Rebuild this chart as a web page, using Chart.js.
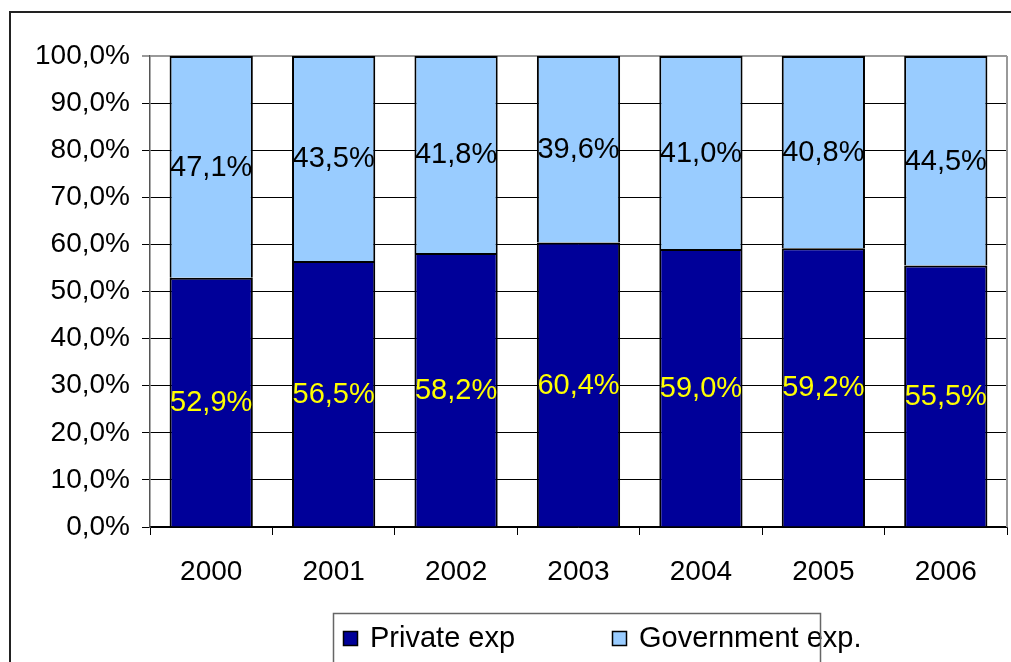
<!DOCTYPE html>
<html>
<head>
<meta charset="utf-8">
<script src="https://cdn.jsdelivr.net/npm/chart.js@4.4.1/dist/chart.umd.min.js"></script>
<style>
  html, body { margin: 0; padding: 0; background: #fff; }
  #wrap { width: 1011px; height: 662px; position: relative; }
</style>
</head>
<body>
<div id="wrap"><canvas id="myChart" width="1011" height="662"></canvas></div>
<script>
const years = ["2000", "2001", "2002", "2003", "2004", "2005", "2006"];
const privateExp = [52.9, 56.5, 58.2, 60.4, 59.0, 59.2, 55.5];
const governmentExp = [47.1, 43.5, 41.8, 39.6, 41.0, 40.8, 44.5];
const seriesNames = ["Private exp", "Government exp."];

const FONT = "'Liberation Sans', Arial, sans-serif";
const fmt = v => v.toFixed(1).replace(".", ",") + "%";

// frame around the whole chart object + plot area right edge
const framePlugin = {
    id: "frame",
    beforeDraw(chart) {
        const c = chart.ctx;
        c.save();
        c.fillStyle = "#fff";
        c.fillRect(0, 0, chart.width, chart.height);
        c.strokeStyle = "#222";
        c.lineWidth = 2;
        c.beginPath();
        c.moveTo(10, chart.height);
        c.lineTo(10, 12);
        c.lineTo(chart.width, 12);
        c.stroke();
        c.restore();
    },
    beforeDatasetsDraw(chart) {
        const a = chart.chartArea;
        const c = chart.ctx;
        c.save();
        c.strokeStyle = "#999";
        c.lineWidth = 2;
        c.beginPath();
        c.moveTo(a.right, a.top);
        c.lineTo(a.right, a.bottom);
        c.stroke();
        c.restore();
    }
};

// percentage labels in the middle of each segment
const valueLabels = {
    id: "valueLabels",
    afterDatasetsDraw(chart) {
        const c = chart.ctx;
        c.save();
        c.font = "29px " + FONT;
        c.textAlign = "center";
        c.textBaseline = "middle";
        chart.data.datasets.forEach((ds, i) => {
            const meta = chart.getDatasetMeta(i);
            c.fillStyle = ds.labelColor;
            meta.data.forEach((bar, j) => {
                c.fillText(fmt(ds.data[j]), bar.x, (bar.y + bar.base) / 2 + 1);
            });
        });
        c.restore();
    }
};

// boxed legend under the axis
const boxLegend = {
    id: "boxLegend",
    afterDraw(chart) {
        const c = chart.ctx;
        c.save();
        const xs = [343, 612];
        c.font = "29px " + FONT;
        c.textBaseline = "middle";
        chart.data.datasets.forEach((ds, i) => {
            c.fillStyle = ds.backgroundColor;
            c.fillRect(xs[i], 631, 15, 15);
            c.strokeStyle = "#000";
            c.lineWidth = 1.5;
            c.strokeRect(xs[i] + 0.5, 631.5, 14, 14);
            c.fillStyle = "#000";
            c.fillText(ds.label, xs[i] + 27, 639);
        });
        c.strokeStyle = "#666";
        c.lineWidth = 1.5;
        c.strokeRect(333.5, 613.5, 487, 80);
        c.restore();
    }
};

const ctx = document.getElementById("myChart").getContext("2d");

new Chart(ctx, {
    type: "bar",
    data: {
        labels: years,
        datasets: [
            {
                label: seriesNames[0],
                data: privateExp,
                backgroundColor: "#000099",
                borderColor: "#000",
                borderWidth: 2,
                labelColor: "#ffff00",
                barPercentage: 0.68,
                categoryPercentage: 1,
            },
            {
                label: seriesNames[1],
                data: governmentExp,
                backgroundColor: "#99ccff",
                borderColor: "#000",
                borderWidth: 2,
                labelColor: "#000",
                barPercentage: 0.68,
                categoryPercentage: 1,
            },
        ],
    },
    options: {
        responsive: false,
        animation: false,
        layout: { padding: { top: 56, right: 4, left: 0, bottom: 0 } },
        scales: {
            x: {
                stacked: true,
                afterFit: s => { s.height = 135; },
                grid: { drawOnChartArea: false, color: "#000", tickLength: 8 },
                border: { color: "#000", width: 1.5 },
                ticks: { color: "#000", font: { family: FONT, size: 28 }, padding: 20 },
            },
            y: {
                stacked: true,
                min: 0,
                max: 100,
                afterFit: s => { s.width = 150; },
                grid: {
                    color: c => (c.tick && c.tick.value === 100 ? "#999" : "#000"),
                    lineWidth: c => (c.tick && c.tick.value === 100 ? 2 : 1),
                    tickLength: 8,
                },
                border: { color: "#555", width: 1.5 },
                ticks: {
                    stepSize: 10,
                    color: "#000",
                    font: { family: FONT, size: 28 },
                    padding: 12,
                    callback: v => fmt(v),
                },
            },
        },
        plugins: {
            legend: { display: false },
            tooltip: { enabled: false },
        },
    },
    plugins: [framePlugin, valueLabels, boxLegend],
});
</script>
</body>
</html>
